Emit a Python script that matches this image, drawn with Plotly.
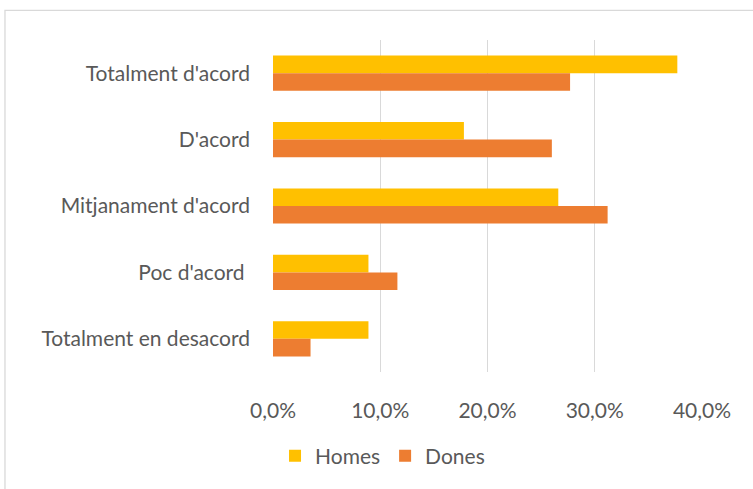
import plotly.graph_objects as go

categories = ["Totalment d'acord", "D'acord", "Mitjanament d'acord", "Poc d'acord ", "Totalment en desacord"]
homes = [0.377, 0.178, 0.266, 0.089, 0.089]
dones = [0.277, 0.260, 0.312, 0.116, 0.035]
tick_vals = [0, 0.1, 0.2, 0.3, 0.4]
tick_text = ["0,0%", "10,0%", "20,0%", "30,0%", "40,0%"]

W, H = 753, 489
L, R, T, B = 272.7, 51, 40, 117.3
pw, ph = W - L - R, H - T - B

FONT = "Lato"
FS = 21
fig = go.Figure()
fig.add_trace(go.Bar(y=categories, x=homes, name="Homes", orientation="h",
                     marker=dict(color="#FFC000", line=dict(width=0))))
fig.add_trace(go.Bar(y=categories, x=dones, name="Dones", orientation="h",
                     marker=dict(color="#ED7D31", line=dict(width=0))))

fig.update_layout(
    width=W, height=H,
    margin=dict(l=L, r=R, t=T, b=B, autoexpand=False),
    paper_bgcolor="white", plot_bgcolor="white",
    barmode="group", bargap=0.47, bargroupgap=0,
    font=dict(family=FONT, size=FS, color="#595959"),
    xaxis=dict(range=[0, 0.4], tickvals=tick_vals, ticktext=tick_text,
               showgrid=True, gridcolor="#D9D9D9", gridwidth=1.3,
               zeroline=False, showline=False, ticks="", ticklabelstandoff=24),
    yaxis=dict(autorange="reversed", showgrid=False, zeroline=False, showline=False,
               ticks="", ticklabelstandoff=22),
    showlegend=True,
    legend=dict(orientation="h", xref="container", yref="container",
                x=0.508, y=1 - 456 / H, xanchor="center", yanchor="middle",
                font=dict(family=FONT, size=FS, color="#595959"),
                itemwidth=30, traceorder="normal"),
    shapes=[dict(type="rect", xref="paper", yref="paper",
                 x0=(4.5 - L) / pw, x1=(W + 20 - L) / pw,
                 y0=-(H + 20 - T - ph) / ph, y1=(T + ph - 10.5) / ph,
                 line=dict(color="#D9D9D9", width=1.3), layer="below")],
)
fig.write_html("out.html", config={"displayModeBar": False},
               post_script="document.body.style.margin='0';document.body.style.overflow='hidden';")
